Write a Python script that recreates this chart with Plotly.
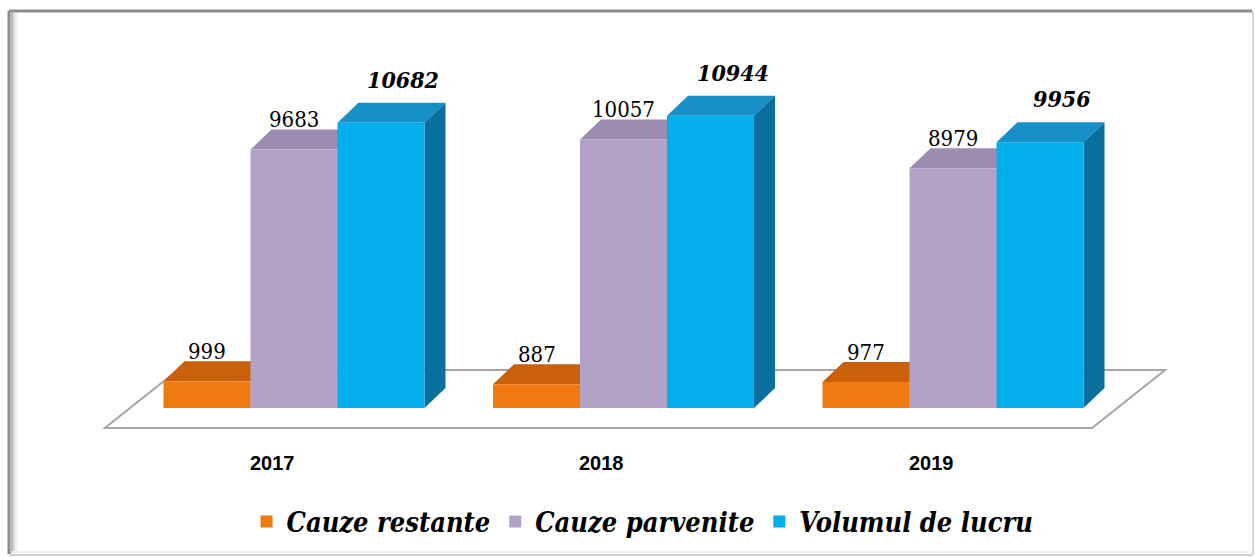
import plotly.graph_objects as go

# ---- data -------------------------------------------------------------
years = ["2017", "2018", "2019"]
series_names = ["Cauze restante", "Cauze parvenite", "Volumul de lucru"]
cauze_restante = [999, 887, 977]
cauze_parvenite = [9683, 10057, 8979]
volumul_de_lucru = [10682, 10944, 9956]

# ---- styling ----------------------------------------------------------
front_colors = ["#F07A10", "#B3A2C8", "#02AEEC"]
top_colors = ["#C9600A", "#9C8CB0", "#1690C6"]
side_colors = ["#A34D06", "#8A7A9E", "#0B6F9E"]
label_bold = [False, False, True]

SERIF = "DejaVu Serif Condensed, DejaVu Serif"
SANS = "Liberation Sans"

W, H = 1255, 558
UNIT_PX = 329.5          # pixels per category step
ORIGIN_PX = 294          # pixel position of the first category centre
ZERO_PX = 408            # pixel row of value 0
PX_PER_VAL = 0.0267      # pixels per unit of value

BW = 87 / UNIT_PX        # bar width in category units
DX = 21 / UNIT_PX        # depth offset (x) of the 3D bars
DY = 20 / PX_PER_VAL     # depth offset (y) of the 3D bars

x_range = [-ORIGIN_PX / UNIT_PX, (W - ORIGIN_PX) / UNIT_PX]
y_range = [-(H - ZERO_PX) / PX_PER_VAL, ZERO_PX / PX_PER_VAL]

all_series = [cauze_restante, cauze_parvenite, volumul_de_lucru]
xs = list(range(len(years)))

fig = go.Figure()
shapes = []
annotations = []


def poly(points):
    return "M " + " L ".join(f"{x},{y}" for x, y in points) + " Z"


# floor of the 3D chart
floor_front = (-0.574, 2.422)
floor_shift = 73 / UNIT_PX
floor_y0, floor_y1 = -DY, 1.9 * DY
shapes.append(dict(
    type="path", xref="x", yref="y", layer="below",
    path=poly([(floor_front[0], floor_y0), (floor_front[1], floor_y0),
               (floor_front[1] + floor_shift, floor_y1),
               (floor_front[0] + floor_shift, floor_y1)]),
    fillcolor="white", line=dict(color="#A6A6A6", width=2),
))

for j, (name, vals) in enumerate(zip(series_names, all_series)):
    off = (j - 1.5) * BW
    fig.add_trace(go.Bar(
        x=xs, y=vals, name=name, width=BW, offset=off,
        marker=dict(color=front_colors[j], line=dict(width=0)),
        hoverinfo="y+name",
    ))
    for i, v in enumerate(vals):
        xl, xr = i + off, i + off + BW
        # top face
        shapes.append(dict(
            type="path", xref="x", yref="y", layer="below",
            path=poly([(xl, v), (xr, v), (xr + DX, v + DY), (xl + DX, v + DY)]),
            fillcolor=top_colors[j], line=dict(width=0),
        ))
        # right side face
        shapes.append(dict(
            type="path", xref="x", yref="y", layer="below",
            path=poly([(xr, 0), (xr, v), (xr + DX, v + DY), (xr + DX, DY)]),
            fillcolor=side_colors[j], line=dict(width=0),
        ))
        # value label
        if label_bold[j]:
            annotations.append(dict(
                x=i + off + BW / 2, y=v + DY, xref="x", yref="y",
                text=f"<b><i>{v}</i></b>", showarrow=False,
                yanchor="bottom", xshift=22, yshift=8,
                font=dict(family=SERIF, size=23, color="black"),
            ))
        else:
            annotations.append(dict(
                x=i + off + BW / 2, y=v + DY, xref="x", yref="y",
                text=str(v), showarrow=False,
                yanchor="bottom", yshift=-5,
                font=dict(family=SERIF, size=22, color="black"),
            ))

# category labels along the front edge of the floor
for i, yr in enumerate(years):
    annotations.append(dict(
        x=i, y=floor_y0, xref="x", yref="y", text=f"<b>{yr}</b>",
        showarrow=False, yanchor="top", xshift=-22, yshift=-22,
        font=dict(family=SANS, size=20, color="black"),
    ))

# outer frame with a soft shadow on the left
def px_x(p):
    return p / W


def px_y(p):
    return 1 - p / H


frame_lines = [
    (9, 11, 1252, 11, "#8C8C8C", 3),
    (9, 11, 9, 554, "#8C8C8C", 3),
    (12, 13, 12, 553, "#B8B8B8", 2),
    (14, 13, 14, 553, "#DCDCDC", 2),
    (16, 13, 16, 553, "#EFEFEF", 2),
    (1253, 11, 1253, 554, "#D6D6D6", 2),
    (9, 555, 1253, 555, "#CFCFCF", 2),
    (12, 552, 1251, 552, "#EEEEEE", 2),
]
for x0, y0, x1, y1, c, w in frame_lines:
    shapes.append(dict(
        type="line", xref="paper", yref="paper",
        x0=px_x(x0), y0=px_y(y0), x1=px_x(x1), y1=px_y(y1),
        line=dict(color=c, width=w), layer="above",
    ))

fig.update_layout(
    width=W, height=H,
    margin=dict(l=0, r=0, t=0, b=0),
    paper_bgcolor="white", plot_bgcolor="white",
    barmode="overlay",
    xaxis=dict(range=x_range, visible=False, fixedrange=True),
    yaxis=dict(range=y_range, visible=False, fixedrange=True),
    shapes=shapes,
    annotations=annotations,
    showlegend=True,
    legend=dict(
        orientation="h", x=0.512, xanchor="center", y=px_y(522), yanchor="middle",
        font=dict(family=SERIF, size=27, color="black",
                  weight="bold", style="italic"),
        bgcolor="rgba(0,0,0,0)", itemclick=False, itemdoubleclick=False,
        traceorder="normal",
    ),
)

fig.write_html("out.html")
